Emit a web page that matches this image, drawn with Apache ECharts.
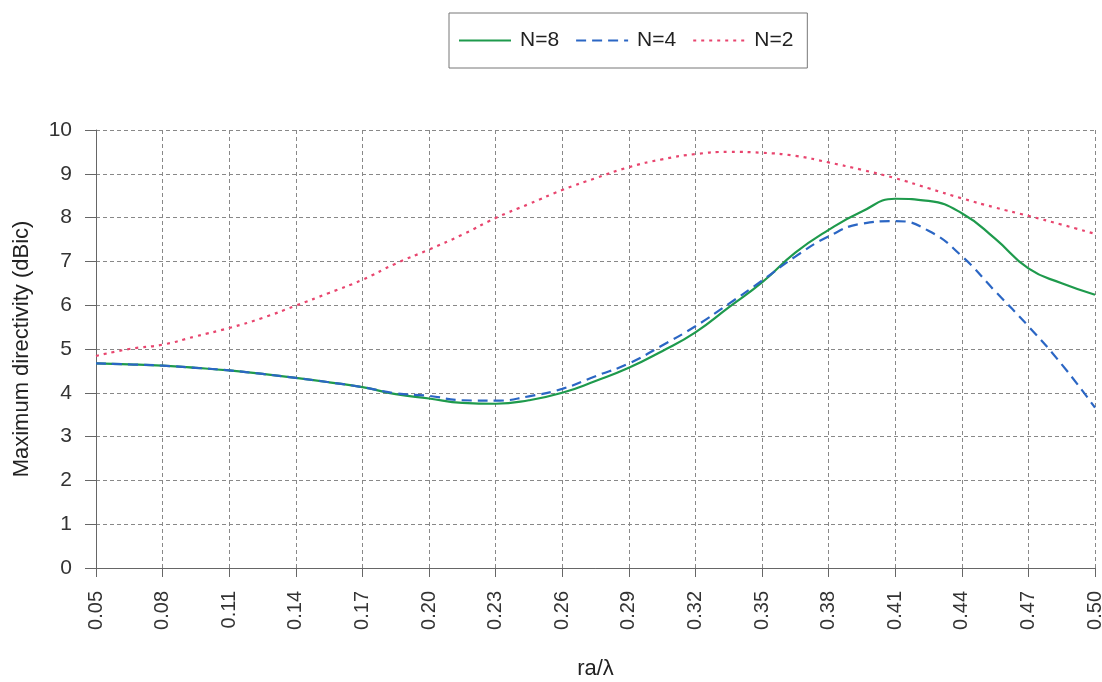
<!DOCTYPE html>
<html>
<head>
<meta charset="utf-8">
<script src="https://cdn.jsdelivr.net/npm/echarts@6/dist/echarts.min.js"></script>
<style>
  html, body { margin: 0; padding: 0; background: #fff; }
  #chart { width: 1102px; height: 682px; }
</style>
</head>
<body>
<div id="chart"></div>
<script>
// ra/lambda samples, every 0.015 (labels shown every 0.03)
var raLambda = ['0.050','0.065','0.080','0.095','0.110','0.125','0.140','0.155','0.170','0.185',
  '0.200','0.215','0.230','0.245','0.260','0.275','0.290','0.305','0.320','0.335',
  '0.350','0.365','0.380','0.395','0.410','0.425','0.440','0.455','0.470','0.485','0.500'];

var n8 = [4.67,4.65,4.62,4.57,4.51,4.43,4.34,4.24,4.13,3.97,
  3.87,3.77,3.75,3.83,4.00,4.27,4.57,4.95,5.38,5.95,
  6.52,7.20,7.72,8.14,8.43,8.38,8.10,7.52,6.84,6.50,6.24];

var n4 = [4.67,4.65,4.62,4.57,4.51,4.43,4.34,4.24,4.13,3.99,
  3.93,3.83,3.82,3.92,4.09,4.38,4.67,5.08,5.52,6.03,
  6.56,7.11,7.57,7.86,7.92,7.70,7.12,6.32,5.52,4.65,3.66];

var n2 = [4.84,5.00,5.10,5.29,5.48,5.71,5.99,6.28,6.58,6.95,
  7.27,7.61,7.99,8.31,8.63,8.90,9.15,9.33,9.45,9.50,
  9.48,9.41,9.26,9.09,8.90,8.67,8.44,8.23,8.04,7.84,7.63];

var chart = echarts.init(document.getElementById('chart'));
var font = 'Liberation Sans, Arial, sans-serif';

var option = {
  backgroundColor: '#ffffff',
  animation: false,
  textStyle: { fontFamily: font },
  legend: {
    top: 13,
    left: 449,
    padding: [17, 14, 17, 9],
    itemGap: 16,
    itemWidth: 52,
    itemHeight: 20,
    borderColor: '#777',
    borderWidth: 1,
    // hide the round marker, keep the line
    itemStyle: { color: 'rgba(0,0,0,0)', borderWidth: 0, opacity: 0 },
    textStyle: { fontSize: 21, color: '#222', fontFamily: font, padding: [0, 0, 0, 4] },
    data: ['N=8', 'N=4', 'N=2']
  },
  grid: {
    left: 96,
    right: 7,
    top: 130,
    bottom: 114,
    outerBoundsMode: 'none',
    containLabel: false
  },
  xAxis: {
    type: 'category',
    data: raLambda,
    boundaryGap: false,
    name: 'ra/λ',
    nameLocation: 'middle',
    nameGap: 90,
    nameTextStyle: { fontSize: 22, color: '#222' },
    axisLine: { lineStyle: { color: '#666', width: 1 } },
    axisTick: { show: true, interval: 1, length: 9, lineStyle: { color: '#666' } },
    axisLabel: {
      interval: 1,
      rotate: 90,
      fontSize: 20,
      color: '#333',
      margin: 23,
      formatter: function (v) { return Number(v).toFixed(2); }
    },
    splitLine: {
      show: true,
      interval: 1,
      lineStyle: { color: '#888', type: [4, 3], width: 1 }
    }
  },
  yAxis: {
    type: 'value',
    min: 0,
    max: 10,
    interval: 1,
    name: 'Maximum directivity (dBic)',
    nameLocation: 'middle',
    nameGap: 63,
    nameTextStyle: { fontSize: 22, color: '#222' },
    axisLine: { show: true, lineStyle: { color: '#666', width: 1 } },
    axisTick: { show: true, length: 11, lineStyle: { color: '#666' } },
    axisLabel: { fontSize: 21, color: '#333', margin: 24 },
    splitLine: { show: true, lineStyle: { color: '#888', type: [4, 3], width: 1 } }
  },
  series: [
    {
      name: 'N=8',
      type: 'line',
      data: n8,
      smooth: 0.5,
      symbol: 'none',
      color: '#1e9a4c',
      lineStyle: { color: '#1e9a4c', width: 2.2, type: 'solid' }
    },
    {
      name: 'N=4',
      type: 'line',
      data: n4,
      smooth: 0.5,
      symbol: 'none',
      color: '#2b66c4',
      lineStyle: { color: '#2b66c4', width: 2.2, type: [10, 6] }
    },
    {
      name: 'N=2',
      type: 'line',
      data: n2,
      smooth: 0.5,
      symbol: 'none',
      color: '#e8456e',
      lineStyle: { color: '#e8456e', width: 2.2, type: [3, 5] }
    }
  ]
};

chart.setOption(option);
</script>
</body>
</html>
